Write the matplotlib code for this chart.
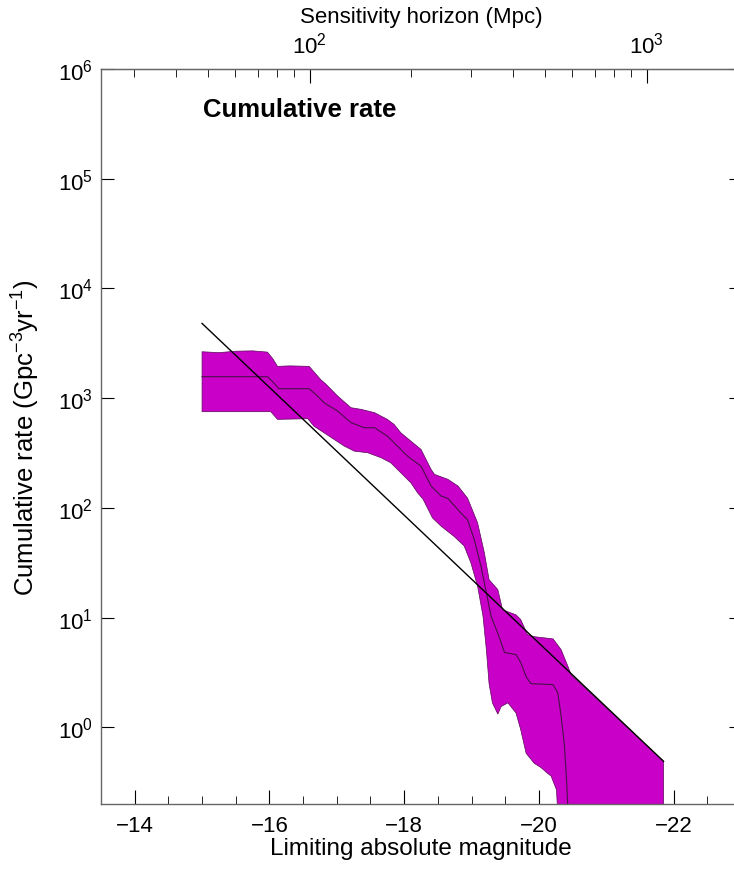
import numpy as np
import matplotlib
matplotlib.use("Agg")
import matplotlib.pyplot as plt
from matplotlib.ticker import (LogLocator, LogFormatterSciNotation, MultipleLocator,
                               NullLocator, FixedLocator)

plt.rcParams['font.family'] = ['Liberation Sans', 'DejaVu Sans']
plt.rcParams['mathtext.fontset'] = 'custom'
plt.rcParams['mathtext.rm'] = 'Liberation Sans'
plt.rcParams['mathtext.it'] = 'Liberation Sans:italic'
plt.rcParams['mathtext.bf'] = 'Liberation Sans:bold'
plt.rcParams['mathtext.default'] = 'regular'
plt.rcParams['font.size'] = 16

M_LIM = 18.4  # limiting apparent magnitude used for the horizon axis

# upper edge of the rate band
upper_mag = [-15.0, -15.25, -15.5, -15.75, -15.97, -16.05, -16.12, -16.3, -16.59,
             -16.76, -16.84, -17.01, -17.21, -17.36, -17.56, -17.75, -17.85, -17.95,
             -18.1, -18.25, -18.4, -18.45, -18.65, -18.8, -18.94, -19.09, -19.19,
             -19.26, -19.39, -19.46, -19.66, -19.73, -19.83, -19.93, -20.21, -20.33,
             -20.43, -20.48, -21.85]
upper_rate = [2650, 2600, 2680, 2700, 2630, 2290, 1950, 1970, 1950,
              1480, 1340, 1050, 819, 791, 738, 641, 577, 484,
              406, 341, 224, 202, 182, 158, 123, 73, 39,
              22.2, 18.0, 11.8, 10.6, 9.6, 7.0, 6.7, 6.4, 5.1,
              3.6, 3.0, 0.49]

# median curve
median_mag = [-15.0, -15.97, -16.05, -16.14, -16.59, -16.71, -16.81, -17.01, -17.21,
              -17.41, -17.56, -17.75, -17.9, -18.05, -18.25, -18.4, -18.55, -18.65,
              -18.84, -18.94, -19.04, -19.14, -19.22, -19.29, -19.39, -19.49, -19.66,
              -19.73, -19.81, -19.88, -20.21, -20.28, -20.33, -20.38, -20.41, -20.43]
median_rate = [1570, 1570, 1410, 1220, 1220, 1050, 910, 764, 598,
               538, 538, 451, 366, 296, 240, 158, 128, 122,
               90, 78, 51.5, 29.4, 16.8, 10.3, 7.2, 4.8, 4.6,
               3.9, 2.9, 2.5, 2.45, 2.06, 1.26, 0.67, 0.33, 0.18]

# lower edge of the rate band
lower_mag = [-15.0, -16.02, -16.12, -16.57, -16.66, -16.81, -16.96, -17.11, -17.26,
             -17.46, -17.66, -17.8, -17.95, -18.1, -18.2, -18.28, -18.42, -18.55,
             -18.74, -18.89, -18.99, -19.09, -19.17, -19.22, -19.26, -19.31, -19.39,
             -19.44, -19.54, -19.66, -19.73, -19.81, -19.93, -20.03, -20.13, -20.18,
             -20.26, -20.3, -21.85]
lower_rate = [753, 753, 641, 650, 556, 484, 421, 366, 329,
              318, 286, 258, 209, 169, 137, 120, 81, 68,
              55, 45, 31.6, 19.3, 10.3, 5.1, 2.5, 1.67, 1.32,
              1.55, 1.67, 1.35, 0.95, 0.58, 0.47, 0.43, 0.38, 0.36,
              0.27, 0.1, 0.1]

# power-law reference line
line_mag = [-15.0, -21.85]
line_rate = [4800, 0.49]

# horizon axis ticks (Mpc)
horizon_major = [100, 1000]
horizon_minor = [30, 40, 50, 60, 70, 80, 90, 200, 300, 400, 500, 600, 700, 800, 900]


def mag_to_mpc(m):
    return 10 ** ((M_LIM - np.asarray(m) - 25) / 5)


def mpc_to_mag(d):
    d = np.clip(np.asarray(d, dtype=float), 1e-10, None)
    return M_LIM - 25 - 5 * np.log10(d)


fig = plt.figure(figsize=(7.34, 8.70), dpi=100)
ax = fig.add_axes([0.1376, 0.0747, 0.872, 0.8448])

band_x = np.r_[upper_mag, lower_mag[::-1]]
band_y = np.r_[upper_rate, lower_rate[::-1]]
ax.fill(band_x, band_y, facecolor='#c800c8', edgecolor='#5a0a5a', linewidth=0.5, zorder=2)
ax.plot(median_mag, median_rate, color='#4a1048', linewidth=0.8, zorder=3)
ax.plot(line_mag, line_rate, color='black', linewidth=1.0, zorder=4)

ax.set_yscale('log')
ax.set_xlim(-13.5, -23)
ax.set_ylim(0.2, 1e6)

ax.xaxis.set_major_locator(MultipleLocator(2))
ax.xaxis.set_minor_locator(MultipleLocator(0.5))
ax.yaxis.set_major_locator(LogLocator(base=10, numticks=20))
ax.yaxis.set_minor_locator(NullLocator())
ax.tick_params(axis='x', which='both', direction='in', top=False, pad=8)
ax.tick_params(axis='x', which='major', length=10)
ax.tick_params(axis='x', which='minor', length=5.5)
ax.tick_params(axis='y', which='major', direction='in', right=True, length=9, pad=6)

for sp in ax.spines.values():
    sp.set_color('0.4')
    sp.set_linewidth(1.0)

ax.set_xlabel('Limiting absolute magnitude', fontsize=17.5, labelpad=0.5)
ax.set_ylabel('Cumulative rate (Gpc$^{-3}$yr$^{-1}$)', fontsize=18.5, labelpad=11)

secax = ax.secondary_xaxis('top', functions=(mag_to_mpc, mpc_to_mag))
secax.xaxis.set_major_locator(FixedLocator(horizon_major))
secax.xaxis.set_major_formatter(LogFormatterSciNotation())
secax.xaxis.set_minor_locator(FixedLocator(horizon_minor))
secax.tick_params(which='both', direction='in', pad=8)
secax.tick_params(which='major', length=10)
secax.tick_params(which='minor', length=5.5)
secax.spines['top'].set_color('0.4')
secax.set_xlabel('Sensitivity horizon (Mpc)', fontsize=16, labelpad=7)

ax.text(0.16, 0.946, 'Cumulative rate', transform=ax.transAxes,
        fontsize=18.5, fontweight='bold', va='center', ha='left')

fig.savefig('out.png', dpi=100)
